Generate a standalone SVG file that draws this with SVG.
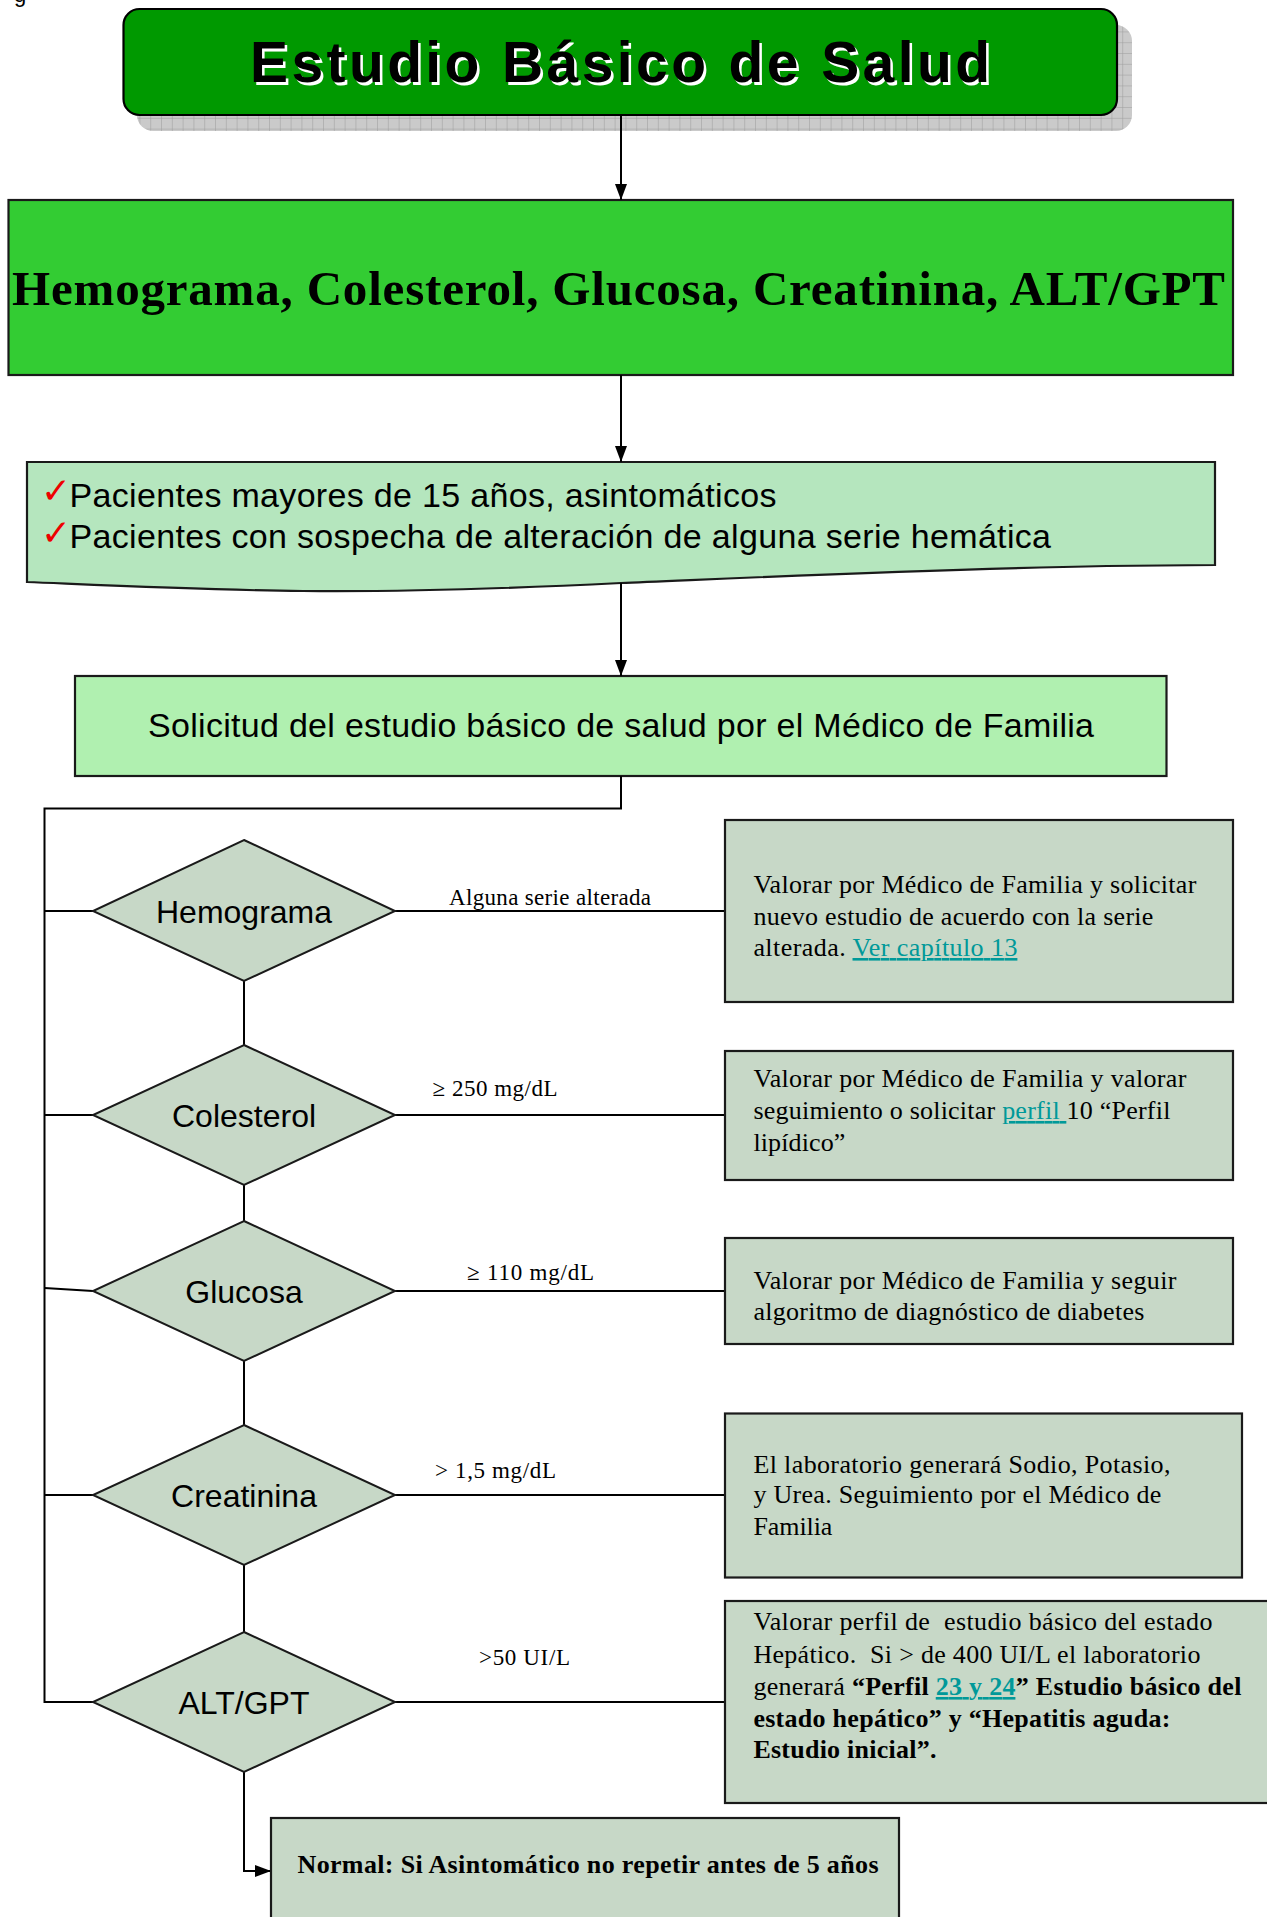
<svg xmlns="http://www.w3.org/2000/svg" width="1267" height="1917" viewBox="0 0 1267 1917">
<style>
.sans{font-family:"Liberation Sans",Arial,sans-serif}
.serif{font-family:"Liberation Serif","Times New Roman",serif}
.box{stroke:#1a1a1a;stroke-width:2.2}
.grey{fill:#C7D8C7}
.dia{fill:#C7D8C7;stroke:#1a1a1a;stroke-width:2}
.line{fill:none;stroke:#000;stroke-width:2}
.btxt{font-family:"Liberation Serif","Times New Roman",serif;font-size:26px;fill:#000}
.lbl{font-family:"Liberation Serif","Times New Roman",serif;font-size:23px;fill:#000}
.dtxt{font-family:"Liberation Sans",Arial,sans-serif;font-size:32px;fill:#000;text-anchor:middle}
.chk{font-family:"DejaVu Sans",sans-serif;font-size:36px;fill:#EE0000}
.link{fill:#009999;text-decoration:underline}
.b{font-weight:bold}
</style>
<defs>
<pattern id="grid" width="10.8" height="10.8" patternUnits="userSpaceOnUse">
<rect width="10.8" height="10.8" fill="#CACACA"/>
<path d="M10.8,0 V10.8 M0,10.8 H10.8" stroke="#9C9C9C" stroke-width="1"/>
</pattern>
<marker id="arr" markerUnits="userSpaceOnUse" markerWidth="16" markerHeight="12" refX="16" refY="6" orient="auto">
<path d="M0,0 L16,6 L0,12 Z" fill="#000"/>
</marker>
</defs>
<rect width="1267" height="1917" fill="#fff"/>
<text class="sans" x="14" y="2" font-size="22">g</text>

<g id="title">
<rect x="137" y="25" width="995" height="106" rx="16" fill="url(#grid)"/>
<rect x="123.5" y="9" width="993.5" height="106" rx="16" fill="#009900" stroke="#000" stroke-width="2.2"/>
<text class="sans b" x="252.5" y="84.5" font-size="57" textLength="740" fill="#fff">Estudio Básico de Salud</text>
<text class="sans b" x="250" y="82" font-size="57" textLength="740" fill="#000">Estudio Básico de Salud</text>
</g>

<g id="pruebas">
<rect class="box" x="8.5" y="200" width="1224.5" height="175" fill="#33CC33"/>
<text class="serif b" x="12" y="305" font-size="49" textLength="1213">Hemograma, Colesterol, Glucosa, Creatinina, ALT/GPT</text>
</g>

<g id="pacientes">
<path class="box" d="M27,462 H1215 V565 L1107,566 C900,570 700,580 621,583 C520,588 400,592 303,591 C200,590 100,585 27,582 Z" fill="#B5E6BE"/>
<text class="chk" x="41" y="503">✓</text>
<text class="sans" x="69.5" y="506.7" font-size="34" textLength="707">Pacientes mayores de 15 años, asintomáticos</text>
<text class="chk" x="41" y="545">✓</text>
<text class="sans" x="69.5" y="548.3" font-size="34" textLength="981.5">Pacientes con sospecha de alteración de alguna serie hemática</text>
</g>

<g id="solicitud">
<rect class="box" x="75" y="676" width="1091.5" height="100" fill="#B0F0B0"/>
<text class="sans" x="148" y="737" font-size="34" textLength="946">Solicitud del estudio básico de salud por el Médico de Familia</text>
</g>

<g id="connectors">
<path class="line" d="M621,115 V200" marker-end="url(#arr)"/>
<path class="line" d="M621,375 V462" marker-end="url(#arr)"/>
<path class="line" d="M621,583 V676" marker-end="url(#arr)"/>
<path class="line" d="M621,776 V808.5 H44.5 V1702 H93" stroke-width="2.4"/>
<path class="line" d="M44.5,911 H93"/>
<path class="line" d="M44.5,1115 H93"/>
<path class="line" d="M44.5,1288 L93,1291"/>
<path class="line" d="M44.5,1495 H93"/>
<path class="line" d="M244,981 V1045"/>
<path class="line" d="M244,1185 V1221"/>
<path class="line" d="M244,1361 V1425"/>
<path class="line" d="M244,1565 V1632"/>
<path class="line" d="M244,1772 V1871 H271" marker-end="url(#arr)"/>
<path class="line" d="M395,911 H725"/>
<path class="line" d="M395,1115 H725"/>
<path class="line" d="M395,1291 H725"/>
<path class="line" d="M395,1495 H725"/>
<path class="line" d="M395,1702 H725"/>
<text class="lbl" x="449" y="905" textLength="202">Alguna serie alterada</text>
<text class="lbl" x="432.5" y="1096" textLength="125">≥ 250 mg/dL</text>
<text class="lbl" x="467" y="1280" textLength="127">≥ 110 mg/dL</text>
<text class="lbl" x="435" y="1478" textLength="121">&gt; 1,5 mg/dL</text>
<text class="lbl" x="479" y="1665" textLength="91">&gt;50 UI/L</text>
</g>

<g id="hemograma">
<polygon class="dia" points="244,840 395,911 244,981 93,911"/>
<text class="dtxt" x="244" y="922.5">Hemograma</text>
</g>
<g id="colesterol">
<polygon class="dia" points="244,1045 395,1115 244,1185 93,1115"/>
<text class="dtxt" x="244" y="1126.5">Colesterol</text>
</g>
<g id="glucosa">
<polygon class="dia" points="244,1221 395,1291 244,1361 93,1291"/>
<text class="dtxt" x="244" y="1302.5">Glucosa</text>
</g>
<g id="creatinina">
<polygon class="dia" points="244,1425 395,1495 244,1565 93,1495"/>
<text class="dtxt" x="244" y="1506.5">Creatinina</text>
</g>
<g id="altgpt">
<polygon class="dia" points="244,1632 395,1702 244,1772 93,1702"/>
<text class="dtxt" x="244" y="1713.5">ALT/GPT</text>
</g>

<g id="res-hemograma">
<rect class="box grey" x="725" y="820" width="508" height="182"/>
<text class="btxt" x="753.4" y="892.7" textLength="443">Valorar por Médico de Familia y solicitar</text>
<text class="btxt" x="753.4" y="925" textLength="400">nuevo estudio de acuerdo con la serie</text>
<text class="btxt" x="753.4" y="956" textLength="264">alterada. <tspan class="link">Ver capítulo 13</tspan></text>
</g>
<g id="res-colesterol">
<rect class="box grey" x="725" y="1051" width="508" height="129"/>
<text class="btxt" x="753.4" y="1087.3" textLength="433">Valorar por Médico de Familia y valorar</text>
<text class="btxt" x="753.4" y="1119" textLength="417" xml:space="preserve">seguimiento o solicitar <tspan class="link">perfil </tspan>10 “Perfil</text>
<text class="btxt" x="753.4" y="1150.7" textLength="92">lipídico”</text>
</g>
<g id="res-glucosa">
<rect class="box grey" x="725" y="1238" width="508" height="106"/>
<text class="btxt" x="753.4" y="1289.3" textLength="423">Valorar por Médico de Familia y seguir</text>
<text class="btxt" x="753.4" y="1320" textLength="391">algoritmo de diagnóstico de diabetes</text>
</g>
<g id="res-creatinina">
<rect class="box grey" x="725" y="1413.5" width="517" height="164"/>
<text class="btxt" x="753.4" y="1472.7" textLength="417">El laboratorio generará Sodio, Potasio,</text>
<text class="btxt" x="753.4" y="1503.3" textLength="408">y Urea. Seguimiento por el Médico de</text>
<text class="btxt" x="753.4" y="1535" textLength="79">Familia</text>
</g>
<g id="res-altgpt">
<rect class="box grey" x="725" y="1601" width="560" height="202"/>
<text class="btxt" x="753.4" y="1630" textLength="459" xml:space="preserve">Valorar perfil de  estudio básico del estado</text>
<text class="btxt" x="753.4" y="1662.7" textLength="447" xml:space="preserve">Hepático.  Si &gt; de 400 UI/L el laboratorio</text>
<text class="btxt" x="753.4" y="1695" textLength="488" xml:space="preserve">generará <tspan class="b">“Perfil </tspan><tspan class="b link">23 y 24</tspan><tspan class="b">” Estudio básico del</tspan></text>
<text class="btxt b" x="753.4" y="1726.7" textLength="417">estado hepático” y “Hepatitis aguda:</text>
<text class="btxt b" x="753.4" y="1758" textLength="183">Estudio inicial”.</text>
</g>
<g id="normal">
<rect class="box grey" x="271" y="1818" width="628" height="120"/>
<text class="btxt b" x="297.5" y="1873.3" textLength="581">Normal: Si Asintomático no repetir antes de 5 años</text>
</g>
</svg>
